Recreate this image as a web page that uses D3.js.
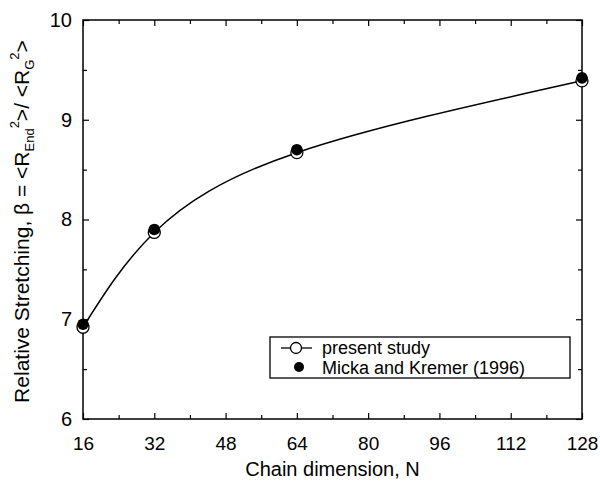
<!DOCTYPE html>
<html>
<head>
<meta charset="utf-8">
<script src="https://cdn.jsdelivr.net/npm/d3@7"></script>
<style>
  html, body { margin: 0; padding: 0; background: #fff; }
  text { font-family: "Liberation Sans", Arial, Helvetica, sans-serif; fill: #000; }
</style>
</head>
<body>
<svg id="chart" width="600" height="482"></svg>
<script>
// ---- data ----
const chainN = [16, 32, 64, 128];
const presentStudy = [6.92, 7.87, 8.67, 9.39];
const mickaKremer = [6.95, 7.90, 8.70, 9.42];
const xTickValues = [16, 32, 48, 64, 80, 96, 112, 128];
const xMinorValues = [24, 40, 56, 72, 88, 104, 120];
const yTickValues = [6, 7, 8, 9, 10];
const yMinorValues = [6.5, 7.5, 8.5, 9.5];
const legendLabels = ["present study", "Micka and Kremer (1996)"];

// ---- layout ----
const svg = d3.select("#chart");
const L = 83, R = 582, T = 20, B = 419;
const x = d3.scaleLinear().domain([16, 128]).range([L, R]);
const y = d3.scaleLinear().domain([6, 10]).range([B, T]);

const g = svg.append("g");
const FONT = "Liberation Sans, Arial, sans-serif";

// frame
g.append("rect").attr("x", L).attr("y", T).attr("width", R - L).attr("height", B - T)
  .attr("fill", "none").attr("stroke", "#000").attr("stroke-width", 1.5);

const major = 6, minor = 4;
// bottom axis
g.append("g").attr("transform", `translate(0,${B})`)
  .call(d3.axisBottom(x).tickValues(xTickValues).tickSize(-major).tickPadding(18))
  .call(s => s.select(".domain").remove())
  .call(s => s.selectAll("text").attr("font-size", 19).attr("font-family", FONT));
g.append("g").attr("transform", `translate(0,${B})`)
  .call(d3.axisBottom(x).tickValues(xMinorValues).tickSize(-minor).tickFormat(""))
  .call(s => s.select(".domain").remove());
// top axis
g.append("g").attr("transform", `translate(0,${T})`)
  .call(d3.axisTop(x).tickValues(xTickValues).tickSize(-major).tickFormat(""))
  .call(s => s.select(".domain").remove());
g.append("g").attr("transform", `translate(0,${T})`)
  .call(d3.axisTop(x).tickValues(xMinorValues).tickSize(-minor).tickFormat(""))
  .call(s => s.select(".domain").remove());
// left axis
g.append("g").attr("transform", `translate(${L},0)`)
  .call(d3.axisLeft(y).tickValues(yTickValues).tickSize(-major).tickPadding(11).tickFormat(d3.format("d")))
  .call(s => s.select(".domain").remove())
  .call(s => s.selectAll("text").attr("font-size", 20).attr("font-family", FONT));
g.append("g").attr("transform", `translate(${L},0)`)
  .call(d3.axisLeft(y).tickValues(yMinorValues).tickSize(-minor).tickFormat(""))
  .call(s => s.select(".domain").remove());
// right axis
g.append("g").attr("transform", `translate(${R},0)`)
  .call(d3.axisRight(y).tickValues(yTickValues).tickSize(-major).tickFormat(""))
  .call(s => s.select(".domain").remove());
g.append("g").attr("transform", `translate(${R},0)`)
  .call(d3.axisRight(y).tickValues(yMinorValues).tickSize(-minor).tickFormat(""))
  .call(s => s.select(".domain").remove());
g.selectAll(".tick line").attr("stroke", "#000").attr("stroke-width", 1.2);

// curve
const line = d3.line().x((d, i) => x(chainN[i])).y(d => y(d)).curve(d3.curveNatural);
g.append("path").datum(presentStudy).attr("d", line)
  .attr("fill", "none").attr("stroke", "#000").attr("stroke-width", 1.5);

// markers
g.selectAll("circle.open").data(presentStudy).join("circle").attr("class", "open")
  .attr("cx", (d, i) => x(chainN[i])).attr("cy", d => y(d)).attr("r", 6)
  .attr("fill", "#fff").attr("stroke", "#000").attr("stroke-width", 1.3);
g.selectAll("circle.filled").data(mickaKremer).join("circle").attr("class", "filled")
  .attr("cx", (d, i) => x(chainN[i])).attr("cy", d => y(d)).attr("r", 5.8)
  .attr("fill", "#000");

// legend
const lg = svg.append("g");
lg.append("rect").attr("x", 270).attr("y", 337).attr("width", 300).attr("height", 41)
  .attr("fill", "#fff").attr("stroke", "#000").attr("stroke-width", 1.3);
lg.append("line").attr("x1", 281).attr("x2", 312).attr("y1", 348).attr("y2", 348)
  .attr("stroke", "#000").attr("stroke-width", 1.3);
lg.append("circle").attr("cx", 296).attr("cy", 348).attr("r", 5.5)
  .attr("fill", "#fff").attr("stroke", "#000").attr("stroke-width", 1.3);
lg.append("circle").attr("cx", 299).attr("cy", 367).attr("r", 5).attr("fill", "#000");
lg.append("text").attr("x", 322).attr("y", 354).attr("font-size", 18).text(legendLabels[0]);
lg.append("text").attr("x", 322).attr("y", 374).attr("font-size", 18).text(legendLabels[1]);

// axis titles
svg.append("text").attr("x", (L + R) / 2).attr("y", 476).attr("text-anchor", "middle")
  .attr("font-size", 20).text("Chain dimension, N");

const yt = svg.append("text").attr("transform", `translate(29,${(T + B) / 2 + 2}) rotate(-90)`)
  .attr("text-anchor", "middle").attr("font-size", 21);
yt.append("tspan").text("Relative Stretching, \u03B2 = <R");
yt.append("tspan").attr("font-size", 13).attr("dy", 5).text("End");
yt.append("tspan").attr("font-size", 13).attr("dy", -15).text("2");
yt.append("tspan").attr("dy", 10).text(">/ <R");
yt.append("tspan").attr("font-size", 13).attr("dy", 5).text("G");
yt.append("tspan").attr("font-size", 13).attr("dy", -15).text("2");
yt.append("tspan").attr("dy", 10).text(">");
</script>
</body>
</html>
